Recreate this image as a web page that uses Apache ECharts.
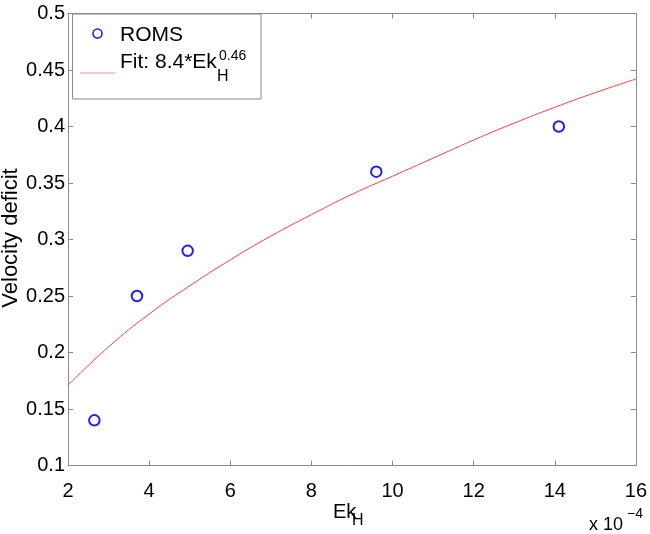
<!DOCTYPE html>
<html>
<head>
<meta charset="utf-8">
<script src="https://cdn.jsdelivr.net/npm/echarts@6/dist/echarts.min.js"></script>
<style>html,body{margin:0;padding:0;background:#fff}#c{width:650px;height:534px}</style>
</head>
<body>
<div id="c"></div>
<script>
// ROMS data (Ek_H in units of 1e-4)
const romsEk = [2.65, 3.7, 4.95, 9.6, 14.1];
const romsDeficit = [0.14, 0.25, 0.29, 0.36, 0.40];
// Fit curve
const fitEk = [2, 3, 4, 5, 6, 7, 8, 9, 10, 11, 12, 13, 14, 15, 16];
const fitDeficit = [0.171, 0.205, 0.234, 0.259, 0.282, 0.303, 0.322, 0.340, 0.356, 0.372, 0.388, 0.403, 0.417, 0.430, 0.442];
const xTicks = [2, 4, 6, 8, 10, 12, 14, 16];
const yTicks = [0.1, 0.15, 0.2, 0.25, 0.3, 0.35, 0.4, 0.45, 0.5];

const FONT = '"Liberation Sans", Arial, Helvetica, sans-serif';
const AX = '#8a8a8a';
const BLUE = '#1f1fff';
const chart = echarts.init(document.getElementById('c'));

const baseAxis = {
  axisLine: { show: true, onZero: false, lineStyle: { color: AX, width: 1 } },
  axisTick: { show: true, inside: true, length: 5, lineStyle: { color: AX } },
  splitLine: { show: false }
};
const xr = { min: xTicks[0], max: xTicks[xTicks.length - 1], interval: 2 };
const yr = { min: yTicks[0], max: yTicks[yTicks.length - 1], interval: 0.05 };

chart.setOption({
  animation: false,
  backgroundColor: '#fff',
  grid: { left: 68, right: 12, top: 13.5, bottom: 68.5, containLabel: false },
  xAxis: [
    Object.assign({ type: 'value', position: 'bottom' }, xr, baseAxis, {
      axisLabel: { color: '#000', fontFamily: FONT, fontSize: 20, margin: 16,
        formatter: v => String(v) }
    }),
    Object.assign({ type: 'value', position: 'top' }, xr, baseAxis, {
      axisLabel: { show: false }
    })
  ],
  yAxis: [
    Object.assign({ type: 'value', position: 'left' }, yr, baseAxis, {
      axisLabel: { color: '#000', fontFamily: FONT, fontSize: 20, margin: 3,
        formatter: v => String(+v.toFixed(2)) }
    }),
    Object.assign({ type: 'value', position: 'right' }, yr, baseAxis, {
      axisLabel: { show: false }
    })
  ],
  series: [
    {
      type: 'line', name: 'Fit', smooth: true, showSymbol: false,
      data: fitEk.map((x, i) => [x, fitDeficit[i]]),
      lineStyle: { color: '#ff4040', width: 1 }, z: 2
    },
    {
      type: 'scatter', name: 'ROMS', symbol: 'emptyCircle', symbolSize: 10.5,
      data: romsEk.map((x, i) => [x, romsDeficit[i]]),
      itemStyle: { color: BLUE, borderColor: BLUE, borderWidth: 1.6, opacity: 1 }, z: 3
    }
  ],
  graphic: [
    // legend box
    { type: 'rect', shape: { x: 72.5, y: 14, width: 188.5, height: 85 },
      style: { fill: '#fff', stroke: AX, lineWidth: 1 }, z: 10 },
    { type: 'circle', shape: { cx: 97.5, cy: 33.5, r: 4.5 },
      style: { fill: 'none', stroke: BLUE, lineWidth: 1.6 }, z: 11 },
    { type: 'text', x: 120, y: 35, z: 11,
      style: { text: 'ROMS', font: '21px ' + FONT, fill: '#000', textVerticalAlign: 'middle' } },
    { type: 'line', shape: { x1: 80, y1: 73, x2: 115, y2: 73 },
      style: { stroke: '#ff9090', lineWidth: 1 }, z: 11 },
    { type: 'text', x: 120, y: 62, z: 11,
      style: { text: 'Fit: 8.4*Ek', font: '21px ' + FONT, fill: '#000', textVerticalAlign: 'middle' } },
    { type: 'text', x: 217, y: 77, z: 11,
      style: { text: 'H', font: '16px ' + FONT, fill: '#000', textVerticalAlign: 'middle' } },
    { type: 'text', x: 219, y: 56, z: 11,
      style: { text: '0.46', font: '14px ' + FONT, fill: '#000', textVerticalAlign: 'middle' } },
    // x axis name
    { type: 'text', x: 333, y: 512, z: 11,
      style: { text: 'Ek', font: '20px ' + FONT, fill: '#000', textVerticalAlign: 'middle' } },
    { type: 'text', x: 352, y: 521, z: 11,
      style: { text: 'H', font: '16px ' + FONT, fill: '#000', textVerticalAlign: 'middle' } },
    // exponent
    { type: 'text', x: 589, y: 525, z: 11,
      style: { text: 'x 10', font: '18px ' + FONT, fill: '#000', textVerticalAlign: 'middle' } },
    { type: 'text', x: 627, y: 514, z: 11,
      style: { text: '\u22124', font: '14px ' + FONT, fill: '#000', textVerticalAlign: 'middle' } },
    // y axis name
    { type: 'text', x: 11, y: 238, rotation: Math.PI / 2, z: 11,
      style: { text: 'Velocity deficit', font: '22px ' + FONT, fill: '#000',
        textAlign: 'center', textVerticalAlign: 'middle' } }
  ]
});
</script>
</body>
</html>
